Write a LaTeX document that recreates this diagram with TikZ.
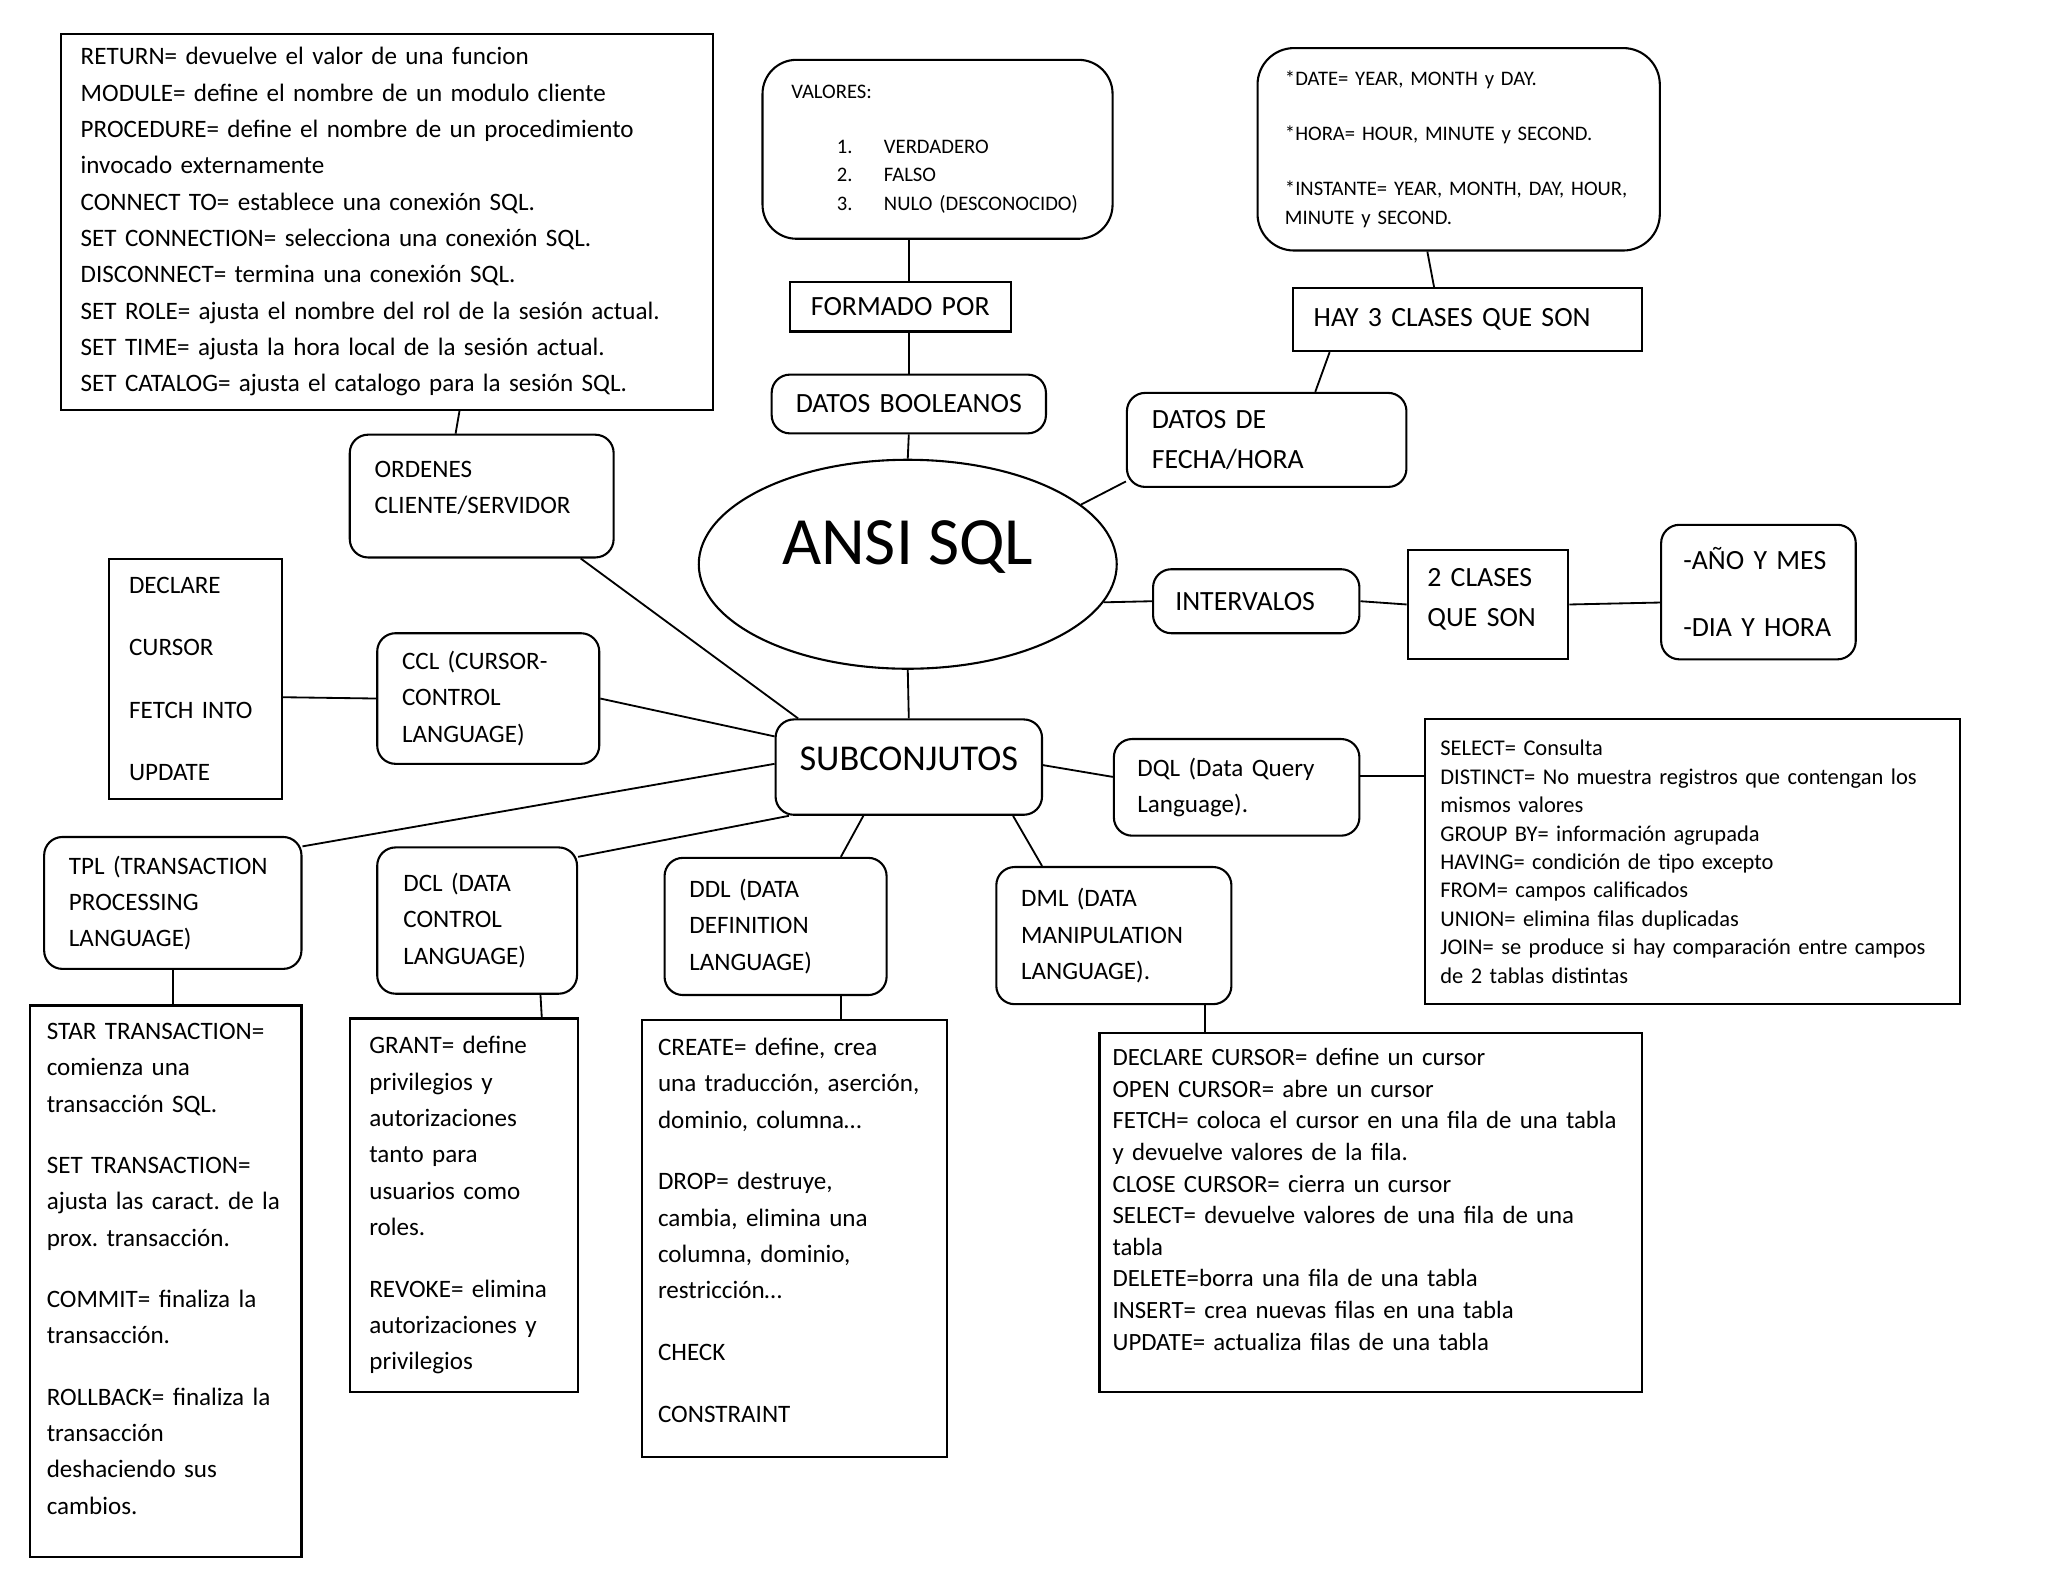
\documentclass[tikz,border=0pt]{standalone}
\usepackage{fontspec}
\setmainfont{Carlito}
\usetikzlibrary{shapes.geometric}
\frenchspacing
\hyphenpenalty=10000
\exhyphenpenalty=10000
\newcommand{\Tb}{\fontsize{19.2}{27.8}\selectfont}
\newcommand{\Tl}{\fontsize{21.3}{30.3}\selectfont}
\newcommand{\Ts}{\fontsize{15.8}{22}\selectfont}
\newcommand{\Tq}{\fontsize{17.2}{21.8}\selectfont}
\newcommand{\Tc}{\fontsize{19}{24.2}\selectfont}
\newcommand{\Tsub}{\fontsize{27.8}{32}\selectfont}
\newcommand{\Tt}{\fontsize{51.8}{60}\selectfont}
\tikzset{
    dim/.code n args={3}{\pgfmathsetmacro\boxtw{#1-2*#3}%
        \edef\next{\noexpand\tikzset{minimum width=#1pt, minimum height=#2pt,
            inner xsep=#3pt, text width=\boxtw pt}}\next},
    sqbox/.style={draw, line width=1.6pt, anchor=north west, align=left},
    rbox/.style={sqbox, rounded corners=14pt},
    link/.style={line width=1.4pt},
}

\begin{document}
\begin{tikzpicture}[x=1pt,y=-1pt]
        \useasboundingbox (0,0) rectangle (1568,1211);
        % centro
        \node[ellipse, draw, line width=1.6pt, minimum width=320pt, minimum height=160pt,
            font=\Tt, text height=34pt, text depth=34pt] (ansi) at (695,432) {ANSI SQL};
        \node[rbox, dim={204}{73}{4}, align=center, font=\Tsub,
            text height=20pt, text depth=15pt] (subc) at (593,550) {SUBCONJUTOS};
        % arriba
        \node[sqbox, dim={499}{288}{15}, font=\Tb] (ret) at (46,25) {RETURN= devuelve el valor de una funcion\\
            MODULE= define el nombre de un modulo cliente\\
            PROCEDURE= define el nombre de un procedimiento\\
            invocado externamente\\
            CONNECT TO= establece una conexión SQL.\\
            SET CONNECTION= selecciona una conexión SQL.\\
            DISCONNECT= termina una conexión SQL.\\
            SET ROLE= ajusta el nombre del rol de la sesión actual.\\
            SET TIME= ajusta la hora local de la sesión actual.\\
            SET CATALOG= ajusta el catalogo para la sesión SQL.};
        \node[rbox, rounded corners=26pt, dim={268}{137}{22}, font=\Ts] (val) at (583,45) {VALORES:\\[20pt]
            \hspace*{35pt}\makebox[36pt][l]{1.}VERDADERO\\
            \hspace*{35pt}\makebox[36pt][l]{2.}FALSO\\
            \hspace*{35pt}\makebox[36pt][l]{3.}NULO (DESCONOCIDO)};
        \node[sqbox, dim={169}{38}{4}, align=center, font=\Tl] (form) at (604,215) {FORMADO POR};
        \node[rbox, dim={210}{45}{4}, align=center, font=\Tl] (bool) at (590,286) {DATOS BOOLEANOS};
        \node[rbox, rounded corners=28pt, dim={308}{155}{21}, font=\Ts] (date) at (962,36) {*DATE= YEAR, MONTH y DAY.\\[20pt]
            *HORA= HOUR, MINUTE y SECOND.\\[20pt]
            *INSTANTE= YEAR, MONTH, DAY, HOUR,\\
            MINUTE y SECOND.};
        \node[sqbox, dim={267}{48}{16}, font=\Tl] (hay) at (989,220) {HAY 3 CLASES QUE SON};
        \node[rbox, dim={214}{72}{19}, font=\Tl] (fecha) at (862,300) {DATOS DE\\ FECHA/HORA};
        \node[rbox, dim={202}{94}{19}, font=\Tb] (ord) at (267,332) {ORDENES\\ CLIENTE/SERVIDOR\\[-14pt]\mbox{}};
        % derecha
        \node[rbox, dim={158}{49}{17}, font=\Tl] (interv) at (882,435) {INTERVALOS};
        \node[sqbox, dim={123}{84}{15}, font=\Tl] (dos) at (1077,420) {2 CLASES\\ QUE SON\\[-20pt]\mbox{}};
        \node[rbox, dim={149}{103}{17}, font=\Tl] (anio) at (1271,401) {-AÑO Y MES\\[20.7pt] -DIA Y HORA};
        \node[rbox, dim={188}{74}{18}, font=\Tb] (dql) at (852,565) {DQL (Data Query\\ Language).};
        \node[sqbox, dim={410}{218}{12}, font=\Tq] (sel) at (1090,550) {SELECT= Consulta\\
            DISTINCT= No muestra registros que contengan los\\
            mismos valores\\
            GROUP BY= información agrupada\\
            HAVING= condición de tipo excepto\\
            FROM= campos calificados\\
            UNION= elimina filas duplicadas\\
            JOIN= se produce si hay comparación entre campos\\
            de 2 tablas distintas};
        % izquierda
        \node[sqbox, dim={132}{184}{15}, font=\Tb] (decl) at (83,427) {DECLARE\\[20pt] CURSOR\\[20pt] FETCH INTO\\[20pt] UPDATE};
        \node[rbox, dim={170}{100}{19}, font=\Tb] (ccl) at (288,484) {CCL (CURSOR-\\ CONTROL\\ LANGUAGE)};
        % abajo
        \node[rbox, dim={197}{101}{19}, font=\Tb] (tpl) at (33,640) {TPL (TRANSACTION\\ PROCESSING\\ LANGUAGE)};
        \node[rbox, dim={153}{112}{20}, font=\Tb] (dcl) at (288,648) {DCL (DATA\\ CONTROL\\ LANGUAGE)};
        \node[rbox, dim={170}{105}{19}, font=\Tb] (ddl) at (508,656) {DDL (DATA\\ DEFINITION\\ LANGUAGE)};
        \node[rbox, dim={180}{105}{19}, font=\Tb] (dml) at (762,663) {DML (DATA\\ MANIPULATION\\ LANGUAGE).};
        \node[sqbox, dim={208}{422}{13}, font=\Tb] (star) at (22,769) {STAR TRANSACTION=\\ comienza una\\ transacción SQL.\\[19.2pt]
            SET TRANSACTION=\\ ajusta las caract. de la\\ prox. transacción.\\[19.2pt]
            COMMIT= finaliza la\\ transacción.\\[19.2pt]
            ROLLBACK= finaliza la\\ transacción\\ deshaciendo sus\\ cambios.\\[-9pt]\mbox{}};
        \node[sqbox, dim={175}{286}{15}, font=\Tb] (grant) at (267,779) {GRANT= define\\ privilegios y\\ autorizaciones\\ tanto para\\ usuarios como\\ roles.\\[19.5pt]
            REVOKE= elimina\\ autorizaciones y\\ privilegios};
        \node[sqbox, dim={233}{335}{12}, font=\Tb] (create) at (491,780) {CREATE= define, crea\\ una traducción, aserción,\\ dominio, columna…\\[19.5pt]
            DROP= destruye,\\ cambia, elimina una\\ columna, dominio,\\ restricción…\\[19.5pt]
            CHECK\\[19.5pt]
            CONSTRAINT\\[-15pt]\mbox{}};
        \node[sqbox, dim={415}{275}{10}, font=\Tc] (dcur) at (841,790) {DECLARE CURSOR= define un cursor\\
            OPEN CURSOR= abre un cursor\\
            FETCH= coloca el cursor en una fila de una tabla\\
            y devuelve valores de la fila.\\
            CLOSE CURSOR= cierra un cursor\\
            SELECT= devuelve valores de una fila de una\\
            tabla\\
            DELETE=borra una fila de una tabla\\
            INSERT= crea nuevas filas en una tabla\\
            UPDATE= actualiza filas de una tabla\\[-4pt]\mbox{}};
        % conexiones
        \draw[link] (bool.north |- val.south) -- (bool.north |- form.north);
        \draw[link] (bool.north |- form.south) -- (bool.north);
        \draw[link] (bool.south) -- (ansi.north);
        \draw[link] (ansi.south) -- (subc.north);
        \draw[link] (ansi.19) -- ([yshift=5pt]fecha.south west);
        \draw[link] ([xshift=145pt]fecha.north west) -- ([xshift=29pt]hay.south west);
        \draw[link] ([xshift=109pt]hay.north west) -- ([xshift=-24pt]date.south);
        \draw[link] (ansi.-11) -- (interv.west);
        \draw[link] (interv.east) -- (dos.west);
        \draw[link] (dos.east) -- ([yshift=-8pt]anio.west);
        \draw[link] ([xshift=55.5pt]ret.south) -- ([xshift=-20pt]ord.north);
        \draw[link] ([xshift=-26pt]ord.south east) -- ([xshift=18pt]subc.north west);
        \draw[link] ([yshift=-14pt]decl.east) -- (ccl.west);
        \draw[link] (ccl.east) -- ([yshift=23.5pt]subc.west);
        \draw[link] ([yshift=2.5pt]subc.west) -- ([yshift=-8pt]tpl.north east);
        \draw[link] ([xshift=11pt]subc.south west) -- ([yshift=-8pt]dcl.north east);
        \draw[link] ([xshift=68pt]subc.south west) -- ([xshift=50pt]ddl.north);
        \draw[link] ([xshift=-23pt]subc.south east) -- ([xshift=-55pt]dml.north);
        \draw[link] ([yshift=1.5pt]subc.east) -- ([yshift=8pt]dql.west);
        \draw[link] ([yshift=9pt]dql.east) -- ([yshift=9pt]dql.east -| sel.west);
        \draw[link] (tpl.south) -- (tpl.south |- star.north);
        \draw[link] ([xshift=48.5pt]dcl.south) -- ([xshift=59.5pt]grant.north);
        \draw[link] ([xshift=50pt]ddl.south) -- ([xshift=35.5pt]create.north);
        \draw[link] ([xshift=70pt]dml.south) -- ([xshift=-126.5pt]dcur.north);
    \end{tikzpicture}
\end{document}
